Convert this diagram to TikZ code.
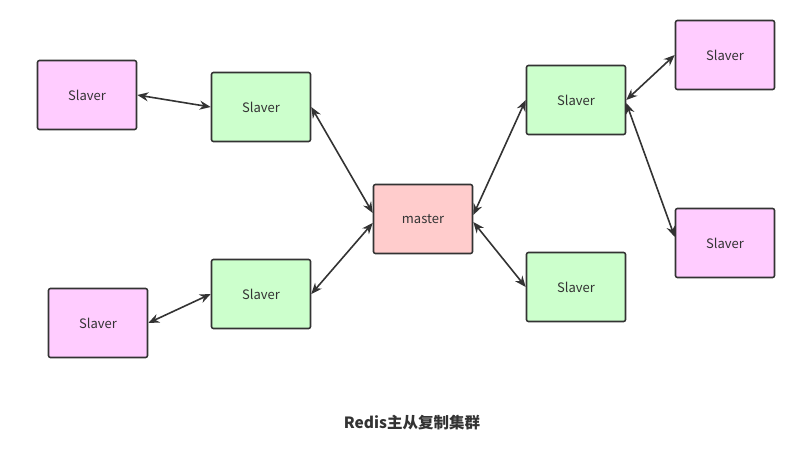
\documentclass[tikz,border=0pt]{standalone}
\usepackage{fontspec}
\setmainfont{Noto Sans CJK SC}
\usepackage{xcolor}
\usetikzlibrary{arrows.meta, positioning, calc}

\definecolor{pinkfill}{HTML}{FFCCFF}
\definecolor{greenfill}{HTML}{CCFFCC}
\definecolor{masterfill}{HTML}{FFCCCC}
\definecolor{linecol}{HTML}{333333}

\begin{document}
\begin{tikzpicture}[
x=1pt, y=-1pt,
every node/.style={font=\fontsize{13}{15}\selectfont, text=linecol},
box/.style={draw=linecol, line width=1.6pt, rounded corners=2pt, rectangle, minimum width=99pt, minimum height=69pt, align=center},
slave/.style={box, fill=pinkfill},
mid/.style={box, fill=greenfill},
link/.style={draw=linecol, line width=1.6pt, {Stealth[length=11pt,width=9pt]}-{Stealth[length=11pt,width=9pt]}}
]

\useasboundingbox (0,0) rectangle (812,471);

\node[box, fill=masterfill] (master) at (423,219) {master};

\node[mid] (gtl) at (261,107) {Slaver};
\node[mid] (gbl) at (261,294) {Slaver};
\node[mid] (gtr) at (576,100) {Slaver};
\node[mid] (gbr) at (576,287) {Slaver};

\node[slave] (ptl) at (87,95) {Slaver};
\node[slave] (pbl) at (98,323) {Slaver};
\node[slave] (ptr) at (725,55) {Slaver};
\node[slave] (pbr) at (725,243) {Slaver};

\node[font=\fontsize{15.5}{18}\selectfont\bfseries] (title) at (412,423) {Redis主从复制集群};

\draw[link] (ptl.east) -- (gtl.west);
\draw[link] (pbl.east) -- (gbl.west);
\draw[link] (gtl.east) -- ([yshift=6pt]master.west);
\draw[link] (gbl.east) -- ([yshift=-4pt]master.west);
\draw[link] ([yshift=4pt]master.east) -- (gtr.west);
\draw[link] ([yshift=-3pt]master.east) -- (gbr.west);
\draw[link] (gtr.east) -- (ptr.west);
\draw[link] ([yshift=-3pt]gtr.east) -- ([yshift=6pt]pbr.west);

\end{tikzpicture}
\end{document}
